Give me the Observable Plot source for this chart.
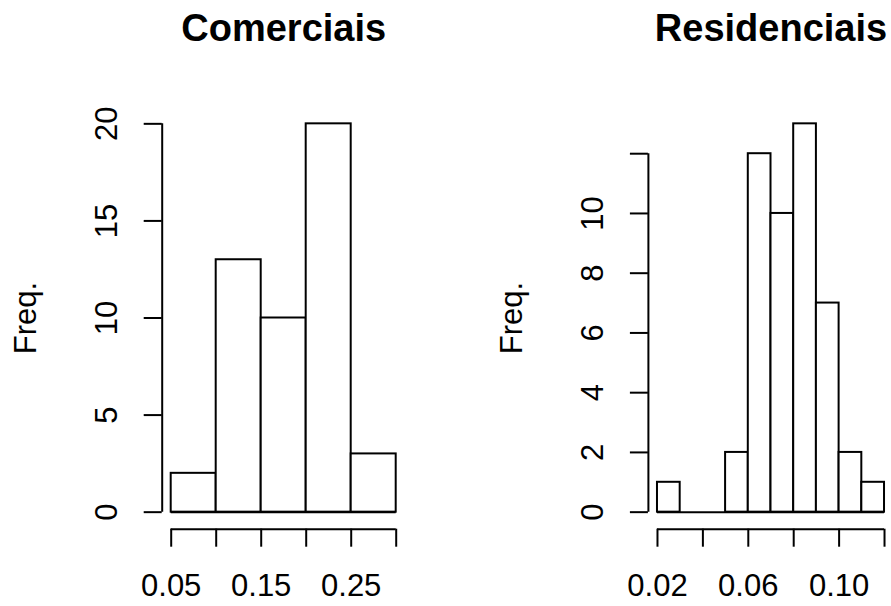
<!DOCTYPE html>
<html>
<head>
<meta charset="utf-8">
<script src="https://cdn.jsdelivr.net/npm/d3@7"></script>
<script src="https://cdn.jsdelivr.net/npm/@observablehq/plot@0.6"></script>
<style>
  html, body { margin: 0; padding: 0; background: #fff; overflow: hidden; }
  #chart { position: relative; width: 891px; height: 606px; overflow: hidden; background: #fff; }
</style>
</head>
<body>
<div id="chart"></div>
<script>
// ---- Data ----
const titles = ["Comerciais", "Residenciais"];
const yLabel = "Freq.";

const comBreaks = [0.05, 0.10, 0.15, 0.20, 0.25, 0.30];
const comCounts = [2, 13, 10, 20, 3];
const comXTicks = [0.05, 0.10, 0.15, 0.20, 0.25, 0.30];
const comXLabels = [0.05, 0.15, 0.25];
const comYTicks = [0, 5, 10, 15, 20];
const comYLabels = [0, 5, 10, 15, 20];

const resBreaks = [0.02, 0.03, 0.04, 0.05, 0.06, 0.07, 0.08, 0.09, 0.10, 0.11, 0.12];
const resCounts = [1, 0, 0, 2, 12, 10, 13, 7, 2, 1];
const resXTicks = [0.02, 0.04, 0.06, 0.08, 0.10, 0.12];
const resXLabels = [0.02, 0.06, 0.10];
const resYTicks = [0, 2, 4, 6, 8, 10, 12];
const resYLabels = [0, 2, 4, 6, 8, 10];

const FONT = "'Liberation Sans', Arial, Helvetica, sans-serif";

function rExtend([a, b]) { const d = (b - a) * 0.04; return [a - d, b + d]; }

function panel({title, breaks, counts, xTicks, xLabels, yTicks, yLabels, left, width, marginLeft, marginRight}) {
  const bins = counts.map((n, i) => ({x1: breaks[i], x2: breaks[i + 1], n}));
  const xDom = rExtend([breaks[0], breaks[breaks.length - 1]]);
  const yDom = rExtend([0, d3.max(counts)]);
  const lw = 2;
  return Plot.plot({
    width, height: 606,
    marginLeft, marginRight, marginTop: 107.8, marginBottom: 78.8,
    x: {domain: xDom},
    y: {domain: yDom},
    style: {position: "absolute", left: left + "px", top: "0px", fontFamily: FONT, background: "transparent", overflow: "visible", color: "#000"},
    marks: [
      // bars
      Plot.rect(bins, {x1: "x1", x2: "x2", y1: 0, y2: "n", fill: "white", stroke: "#000", strokeWidth: lw}),
      Plot.ruleY([0], {x1: breaks[0], x2: breaks[breaks.length - 1], stroke: "#000", strokeWidth: lw}),
      // y axis
      Plot.ruleX([xDom[0]], {y1: yTicks[0], y2: yTicks[yTicks.length - 1], stroke: "#000", strokeWidth: lw}),
      Plot.axisY({ticks: yTicks, tickSize: 18, tickFormat: () => "", label: null, strokeWidth: lw, stroke: "#000"}),
      Plot.text(yLabels, {y: d => d, text: d => String(d), frameAnchor: "left", dx: -45, rotate: -90, textAnchor: "middle", lineAnchor: "bottom", fontSize: 31, fill: "#000"}),
      // x axis
      Plot.ruleY([yDom[0]], {x1: xTicks[0], x2: xTicks[xTicks.length - 1], dy: 1.5, stroke: "#000", strokeWidth: lw}),
      Plot.axisX({ticks: xTicks, tickSize: 18, tickFormat: () => "", label: null, strokeWidth: lw, stroke: "#000", dy: 1.5}),
      Plot.text(xLabels, {x: d => d, text: d => d.toFixed(2), frameAnchor: "bottom", dy: 46, lineAnchor: "top", textAnchor: "middle", fontSize: 31, fill: "#000"}),
      // y label
      Plot.text([yLabel], {text: d => d, frameAnchor: "left", dx: -126.5, rotate: -90, textAnchor: "middle", lineAnchor: "bottom", fontSize: 31, fill: "#000"}),
      // title
      Plot.text([title], {text: d => d, frameAnchor: "top", dy: -67.5, lineAnchor: "bottom", textAnchor: "middle", fontSize: 38, fontWeight: "bold", fill: "#000"})
    ]
  });
}

const chart = document.getElementById("chart");
chart.append(panel({
  title: titles[0], breaks: comBreaks, counts: comCounts, xTicks: comXTicks, xLabels: comXLabels,
  yTicks: comYTicks, yLabels: comYLabels, left: 0, width: 445, marginLeft: 161.7, marginRight: 40.3
}));
chart.append(panel({
  title: titles[1], breaks: resBreaks, counts: resCounts, xTicks: resXTicks, xLabels: resXLabels,
  yTicks: resYTicks, yLabels: resYLabels, left: 445, width: 450, marginLeft: 202.9, marginRight: 1.9
}));
</script>
</body>
</html>
